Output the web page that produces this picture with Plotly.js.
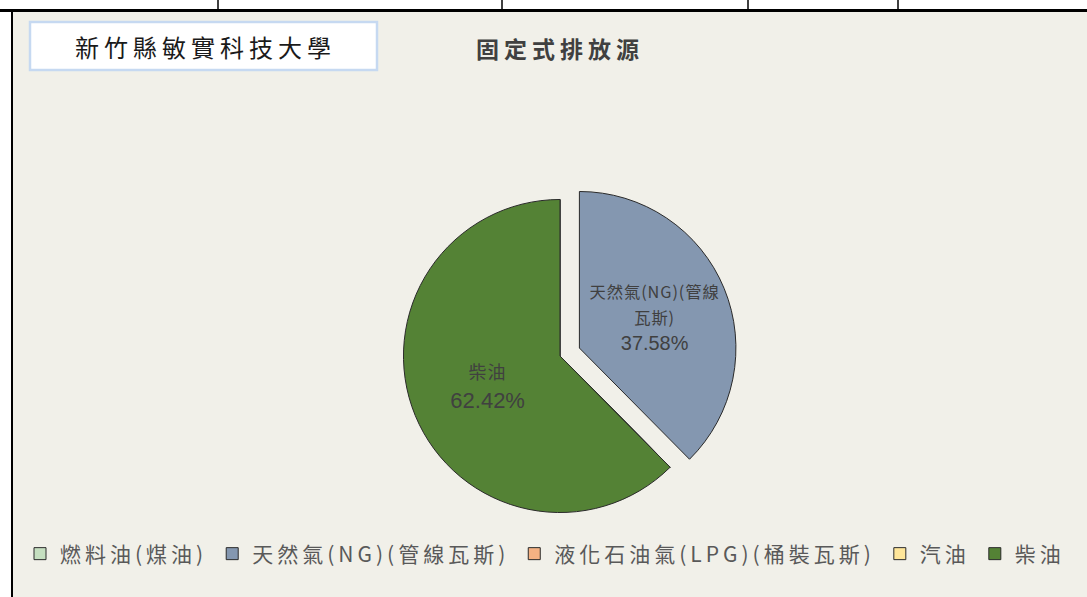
<!DOCTYPE html>
<html>
<head>
<meta charset="utf-8">
<script src="https://cdn.plot.ly/plotly-3.0.1.min.js"></script>
<style>
html,body{margin:0;padding:0;background:#fff;}
#chart{width:1087px;height:597px;}
.legendtext{letter-spacing:4px;}
.gtitle{letter-spacing:5px;}
.annotation-text{letter-spacing:5px;}
</style>
</head>
<body>
<div id="chart"></div>
<script>
const categories = ["燃料油(煤油)", "天然氣(NG)(管線瓦斯)", "液化石油氣(LPG)(桶裝瓦斯)", "汽油", "柴油"];
const sliceLabels = ["", "天然氣(NG)(管線<br>瓦斯)", "", "", "柴油"];
const values = [0, 37.58, 0, 0, 62.42];
const colors = ["#C5DFC0", "#8497B0", "#F4B183", "#FFE699", "#548235"];
const pulls = [0, 0.134, 0, 0, 0];
const chartTitle = "固定式排放源";
const schoolName = "新竹縣敏實科技大學";

const W = 1087, H = 597;
const px = x => x / W;
const py = y => 1 - y / H;
const bg = "#F1F0E9";
const font = "'Noto Sans CJK TC', 'Liberation Sans', sans-serif";

const trace = {
  type: "pie",
  labels: categories,
  values: values,
  text: sliceLabels,
  sort: false,
  direction: "clockwise",
  rotation: 0,
  pull: pulls,
  marker: {colors: colors, line: {color: "#2a2a2a", width: 1}},
  texttemplate: "<span style='font-size:18px;letter-spacing:1px'>%{text}</span><br><span style='font-family:Liberation Sans'>%{percent:.2%}</span>",
  textposition: "inside",
  insidetextorientation: "horizontal",
  textfont: {family: font, size: 22, color: "#404040"},
  hoverinfo: "label+percent",
  domain: {x: [px(382.5), px(737.5)], y: [py(533.5), py(178.5)]},
  showlegend: true
};

const layout = {
  width: W, height: H,
  margin: {l: 0, r: 0, t: 0, b: 0, autoexpand: false},
  paper_bgcolor: "#ffffff",
  font: {family: font, color: "#595959"},
  title: {
    text: "<b>" + chartTitle + "</b>",
    font: {family: font, size: 23, color: "#404040"},
    x: px(560), xanchor: "center", y: py(50), yanchor: "middle"
  },
  showlegend: true,
  legend: {
    orientation: "h",
    x: px(20), xanchor: "left",
    y: py(554), yanchor: "middle",
    font: {family: font, size: 21, color: "#595959"},
    bgcolor: "rgba(0,0,0,0)",
    traceorder: "normal",
    itemclick: false
  },
  shapes: [
    {type: "rect", xref: "paper", yref: "paper", x0: px(12), x1: px(1087), y0: py(597), y1: py(11), fillcolor: bg, line: {width: 0}, layer: "below"},
    {type: "line", xref: "paper", yref: "paper", x0: 0, x1: 1, y0: py(10.5), y1: py(10.5), line: {color: "#000", width: 3}},
    {type: "line", xref: "paper", yref: "paper", x0: px(12), x1: px(12), y0: py(10), y1: 0, line: {color: "#000", width: 2}},
    {type: "line", xref: "paper", yref: "paper", x0: px(218), x1: px(218), y0: 1, y1: py(10), line: {color: "#000", width: 1.5}},
    {type: "line", xref: "paper", yref: "paper", x0: px(502), x1: px(502), y0: 1, y1: py(10), line: {color: "#000", width: 1.5}},
    {type: "line", xref: "paper", yref: "paper", x0: px(748), x1: px(748), y0: 1, y1: py(10), line: {color: "#000", width: 1.5}},
    {type: "line", xref: "paper", yref: "paper", x0: px(898), x1: px(898), y0: 1, y1: py(10), line: {color: "#000", width: 1.5}},
    {type: "rect", xref: "paper", yref: "paper", x0: px(30), x1: px(377), y0: py(70), y1: py(22), fillcolor: "#ffffff", line: {color: "#C6D9F1", width: 2.5}}
  ],
  annotations: [
    {text: schoolName, xref: "paper", yref: "paper", x: px(205), y: py(46), xanchor: "center", yanchor: "middle", showarrow: false, font: {family: font, size: 24, color: "#1a1a1a"}}
  ]
};

Plotly.newPlot("chart", [trace], layout, {displayModeBar: false, staticPlot: true});
</script>
</body>
</html>
